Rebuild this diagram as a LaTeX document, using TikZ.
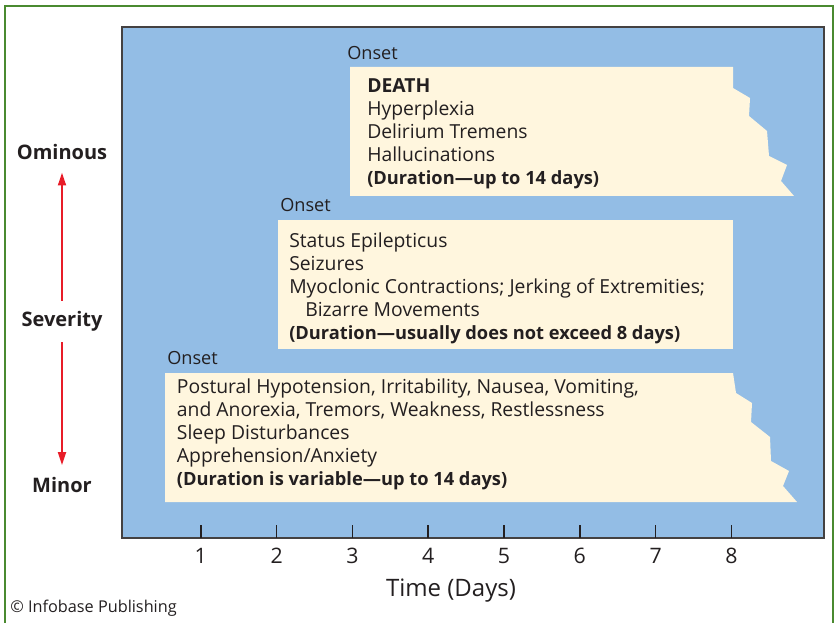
\documentclass[tikz,border=0pt]{standalone}
\usepackage{fontspec}
\setmainfont{Open Sans}
\usetikzlibrary{arrows.meta}
\definecolor{panelblue}{RGB}{147,189,229}
\definecolor{notecream}{RGB}{255,246,222}
\definecolor{frameg}{RGB}{74,138,48}
\definecolor{sevred}{RGB}{232,28,40}
\definecolor{inkdark}{RGB}{35,31,32}
\newcommand{\durline}[1]{{\fontsize{13.7}{17.25}\selectfont\bfseries #1}}
\tikzset{
  notetext/.style={anchor=base west,inner sep=0pt,align=left,text=inkdark,
    font=\fontsize{14.5}{17.25}\selectfont},
  onsettext/.style={anchor=base west,inner sep=0pt,text=inkdark,
    font=\fontsize{13.6}{15}\selectfont},
  sevtext/.style={anchor=base,inner sep=0pt,text=inkdark,
    font=\fontsize{15}{18}\selectfont\bfseries},
  sevarrow/.style={draw=sevred,line width=1.8pt,-{Triangle[length=9.75pt,width=5.8pt]},
    shorten <=8pt,shorten >=9pt},
  daytick/.style={draw=inkdark,line width=1.3pt},
  daylabel/.style={anchor=base,inner sep=0pt,text=inkdark,font=\fontsize{16}{19}\selectfont}
}
\begin{document}
\begin{tikzpicture}[x=0.75pt,y=0.75pt,yscale=-1,xscale=1]
\useasboundingbox (0,0) rectangle (837,623);
%Shape: Frame
\draw [frameg,line width=2pt] (5,640) -- (5,6) -- (833,6) -- (833,640);
%Shape: Rectangle
\draw [fill=panelblue,draw=inkdark!85,line width=1.2pt] (122,27) rectangle (824,538);
%Shape: Polygon
\fill [notecream] (350,67) -- (733,67) -- (733,88) -- (750,98) -- (749,116) -- (767,131) -- (769,156) -- (787,165) -- (781,181) -- (794,196) -- (350,196) -- cycle;
%Shape: Rectangle
\fill [notecream] (278,220) rectangle (733,349);
%Shape: Polygon
\fill [notecream] (165,373) -- (733,373) -- (736,393) -- (752,403) -- (751,422) -- (770,437) -- (771,461) -- (789,471) -- (783,486) -- (797,502) -- (165,502) -- cycle;

% Text Node (anchored on the last line)
\node [onsettext] (onset3) at (347,60) {Onset};
\node [notetext] (stage3) at (367,185) {\textbf{DEATH}\\Hyperplexia\\Delirium Tremens\\Hallucinations\\\durline{(Duration---up to 14 days)}};
% Text Node
\node [onsettext] (onset2) at (280,211.7) {Onset};
\node [notetext] (stage2) at (289,339.3) {Status Epilepticus\\Seizures\\Myoclonic Contractions; Jerking of Extremities;\\\hspace*{12pt}Bizarre Movements\\\durline{(Duration---usually does not exceed 8 days)}};
% Text Node
\node [onsettext] (onset1) at (167,364.3) {Onset};
\node [notetext] (stage1) at (176.7,485.7) {Postural Hypotension, Irritability, Nausea, Vomiting,\\and Anorexia, Tremors, Weakness, Restlessness\\Sleep Disturbances\\Apprehension/Anxiety\\\durline{(Duration is variable---up to 14 days)}};

% Severity scale
\node [sevtext] (ominous) at (62,160) {Ominous};
\node [sevtext] (severity) at (62,326.7) {Severity};
\node [sevtext] (minor) at (62,492.7) {Minor};
\draw [sevarrow] (severity.north) -- (ominous.south);
\draw [sevarrow] (severity.south) -- (minor.north);

% Time axis
\foreach \d in {1,...,8} {
  \draw [daytick] ({125+75.8*\d},525) -- ({125+75.8*\d},538);
  \node [daylabel] (day\d) at ({125+75.8*\d},563) {\d};
}
\node [daylabel,font=\fontsize{18}{21}\selectfont] (timelabel) at (451,596) {Time (Days)};

% Text Node
\node [anchor=base west,inner sep=0pt,text=inkdark,font=\fontsize{12.2}{14}\selectfont] (credit) at (10,612) {© Infobase Publishing};
\end{tikzpicture}
\end{document}
